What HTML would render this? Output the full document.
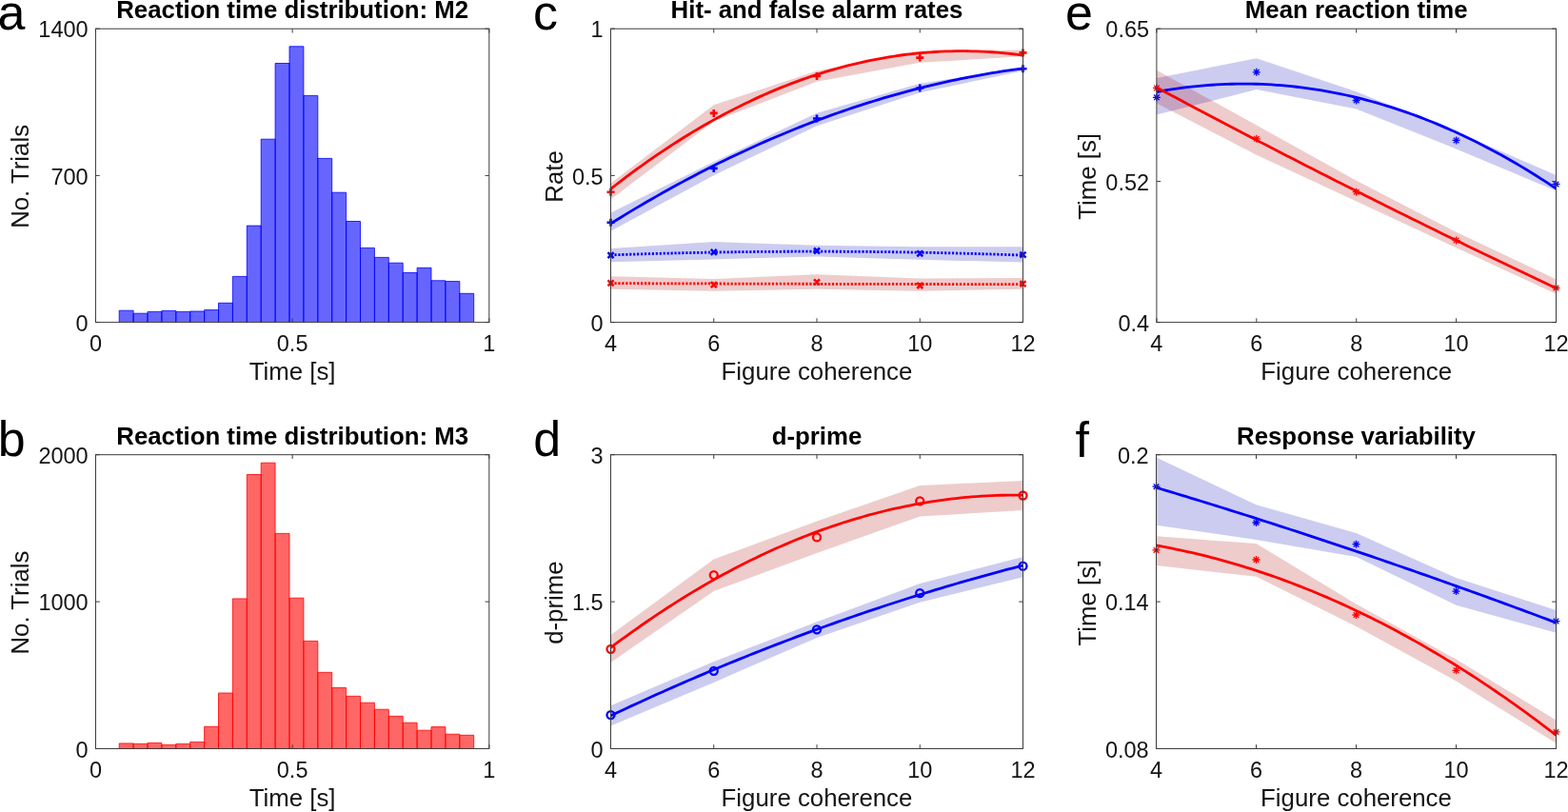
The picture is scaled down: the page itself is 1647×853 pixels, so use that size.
<!DOCTYPE html>
<html><head><meta charset="utf-8"><title>Figure</title>
<style>html,body{margin:0;padding:0;background:#fff;width:1647px;height:853px;overflow:hidden}svg{display:block}</style>
</head><body>
<svg width="1647" height="853" viewBox="0 0 1647 853">
<style>text{font-family:"Liberation Sans", Arial, Helvetica, sans-serif;fill:#141414}.t{font-size:23.5px}.l{font-size:25.8px}.ti{font-size:25.8px;font-weight:bold;fill:#000}.pl{font-size:52px;fill:#000}</style>
<rect width="1647" height="853" fill="#fff"/>
<path d="M125.2 338.6V326.2H140.1V338.6M140.1 338.6V329.2H155V338.6M155 338.6V327.4H169.9V338.6M169.9 338.6V326.4H184.8V338.6M184.8 338.6V327.4H199.7V338.6M199.7 338.6V327H214.6V338.6M214.6 338.6V325.6H229.5V338.6M229.5 338.6V318.3H244.4V338.6M244.4 338.6V290.4H259.3V338.6M259.3 338.6V237.1H274.2V338.6M274.2 338.6V146.2H289.1V338.6M289.1 338.6V66.5H304V338.6M304 338.6V48.8H318.9V338.6M318.9 338.6V100.4H333.8V338.6M333.8 338.6V166.4H348.7V338.6M348.7 338.6V202.2H363.6V338.6M363.6 338.6V232.5H378.5V338.6M378.5 338.6V260.4H393.4V338.6M393.4 338.6V270.4H408.3V338.6M408.3 338.6V276.2H423.2V338.6M423.2 338.6V286.5H438.1V338.6M438.1 338.6V281.3H453V338.6M453 338.6V294.8H467.9V338.6M467.9 338.6V295.6H482.8V338.6M482.8 338.6V308.3H497.7V338.6" fill="#6666ff" stroke="#0000ff" stroke-width="0.8" stroke-linejoin="miter"/>
<path d="M100.45 338.6v-4.3M100.45 30.2v4.3M307.12 338.6v-4.3M307.12 30.2v4.3M513.8 338.6v-4.3M513.8 30.2v4.3M100.45 338.6h4.3M513.8 338.6h-4.3M100.45 184.4h4.3M513.8 184.4h-4.3M100.45 30.2h4.3M513.8 30.2h-4.3" stroke="#3c3c3c" stroke-width="1.0" fill="none"/>
<rect x="100.45" y="30.2" width="413.35" height="308.4" stroke="#3c3c3c" stroke-width="1.0" fill="none"/>
<text x="100.45" y="368.7" text-anchor="middle" class="t">0</text>
<text x="307.12" y="368.7" text-anchor="middle" class="t">0.5</text>
<text x="513.8" y="368.7" text-anchor="middle" class="t">1</text>
<text x="92.65" y="347.7" text-anchor="end" class="t">0</text>
<text x="92.65" y="193.5" text-anchor="end" class="t">700</text>
<text x="92.65" y="39.3" text-anchor="end" class="t">1400</text>
<text x="307.12" y="399" text-anchor="middle" class="l">Time [s]</text>
<text transform="translate(29.7 185.4) rotate(-90)" text-anchor="middle" class="l">No. Trials</text>
<text x="307.12" y="19.3" text-anchor="middle" class="ti">Reaction time distribution: M2</text>
<path d="M125.2 786.5V780.9H140.1V786.5M140.1 786.5V781.3H155V786.5M155 786.5V780.4H169.9V786.5M169.9 786.5V782.4H184.8V786.5M184.8 786.5V781.4H199.7V786.5M199.7 786.5V779.4H214.6V786.5M214.6 786.5V763.3H229.5V786.5M229.5 786.5V728H244.4V786.5M244.4 786.5V628.9H259.3V786.5M259.3 786.5V498.5H274.2V786.5M274.2 786.5V486.2H289.1V786.5M289.1 786.5V560.4H304V786.5M304 786.5V628.2H318.9V786.5M318.9 786.5V673.4H333.8V786.5M333.8 786.5V706.3H348.7V786.5M348.7 786.5V722.5H363.6V786.5M363.6 786.5V731.3H378.5V786.5M378.5 786.5V738.2H393.4V786.5M393.4 786.5V745.2H408.3V786.5M408.3 786.5V752.3H423.2V786.5M423.2 786.5V759.2H438.1V786.5M438.1 786.5V767.2H453V786.5M453 786.5V763.6H467.9V786.5M467.9 786.5V771.2H482.8V786.5M482.8 786.5V772.3H497.7V786.5" fill="#ff6666" stroke="#ff0000" stroke-width="0.8" stroke-linejoin="miter"/>
<path d="M100.45 786.5v-4.3M100.45 477.7v4.3M307.12 786.5v-4.3M307.12 477.7v4.3M513.8 786.5v-4.3M513.8 477.7v4.3M100.5 786.5h4.3M513.8 786.5h-4.3M100.5 632.1h4.3M513.8 632.1h-4.3M100.5 477.7h4.3M513.8 477.7h-4.3" stroke="#3c3c3c" stroke-width="1.0" fill="none"/>
<rect x="100.5" y="477.7" width="413.3" height="308.8" stroke="#3c3c3c" stroke-width="1.0" fill="none"/>
<text x="100.45" y="816.6" text-anchor="middle" class="t">0</text>
<text x="307.12" y="816.6" text-anchor="middle" class="t">0.5</text>
<text x="513.8" y="816.6" text-anchor="middle" class="t">1</text>
<text x="92.7" y="795.6" text-anchor="end" class="t">0</text>
<text x="92.7" y="641.2" text-anchor="end" class="t">1000</text>
<text x="92.7" y="486.8" text-anchor="end" class="t">2000</text>
<text x="307.15" y="846.9" text-anchor="middle" class="l">Time [s]</text>
<text transform="translate(29.7 633.1) rotate(-90)" text-anchor="middle" class="l">No. Trials</text>
<text x="307.15" y="466.8" text-anchor="middle" class="ti">Reaction time distribution: M3</text>
<polygon points="641.5,261.1 749.75,254.1 858,257.8 966.25,259.2 1074.5,259.2 1074.5,275.6 966.25,272.8 858,269.5 749.75,272.4 641.5,275.2" fill="rgb(0,0,180)" fill-opacity="0.2"/>
<polygon points="641.5,290.2 749.75,293 858,288.3 966.25,292.5 1074.5,292.1 1074.5,303.8 966.25,305.7 858,303.8 749.75,305.7 641.5,303.8" fill="rgb(170,0,0)" fill-opacity="0.2"/>
<polygon points="641.5,223.5 749.75,170.1 858,118.7 966.25,87.8 1074.5,70.8 1074.5,74.6 966.25,97.2 858,132.2 749.75,184.2 641.5,242.7" fill="rgb(0,0,180)" fill-opacity="0.2"/>
<polygon points="641.5,192.5 749.75,110.3 858,74.6 966.25,54.5 1074.5,52.4 1074.5,59.2 966.25,65.8 858,85.8 749.75,127.5 641.5,209.4" fill="rgb(170,0,0)" fill-opacity="0.2"/>
<polyline points="641.5,267.89 646.91,267.71 652.33,267.53 657.74,267.35 663.15,267.18 668.56,267.01 673.98,266.85 679.39,266.69 684.8,266.54 690.21,266.39 695.62,266.25 701.04,266.11 706.45,265.98 711.86,265.85 717.27,265.73 722.69,265.61 728.1,265.49 733.51,265.38 738.92,265.28 744.34,265.18 749.75,265.08 755.16,264.99 760.58,264.91 765.99,264.83 771.4,264.75 776.81,264.68 782.23,264.61 787.64,264.55 793.05,264.49 798.46,264.44 803.88,264.39 809.29,264.35 814.7,264.31 820.11,264.28 825.52,264.25 830.94,264.23 836.35,264.21 841.76,264.2 847.18,264.19 852.59,264.19 858,264.19 863.41,264.19 868.82,264.2 874.24,264.22 879.65,264.24 885.06,264.26 890.48,264.29 895.89,264.32 901.3,264.36 906.71,264.41 912.12,264.46 917.54,264.51 922.95,264.57 928.36,264.63 933.78,264.7 939.19,264.77 944.6,264.85 950.01,264.93 955.42,265.02 960.84,265.11 966.25,265.2 971.66,265.3 977.08,265.41 982.49,265.52 987.9,265.64 993.31,265.76 998.73,265.88 1004.14,266.01 1009.55,266.15 1014.96,266.29 1020.38,266.43 1025.79,266.58 1031.2,266.73 1036.61,266.89 1042.03,267.05 1047.44,267.22 1052.85,267.39 1058.26,267.57 1063.67,267.76 1069.09,267.94 1074.5,268.13" fill="none" stroke="#0000ff" stroke-width="2.8" stroke-linejoin="round" stroke-dasharray="2.2 1.74"/>
<polyline points="641.5,297.63 646.91,297.65 652.33,297.67 657.74,297.69 663.15,297.71 668.56,297.72 673.98,297.74 679.39,297.76 684.8,297.78 690.21,297.8 695.62,297.82 701.04,297.83 706.45,297.85 711.86,297.87 717.27,297.89 722.69,297.9 728.1,297.92 733.51,297.94 738.92,297.95 744.34,297.97 749.75,297.99 755.16,298 760.58,298.02 765.99,298.03 771.4,298.05 776.81,298.06 782.23,298.08 787.64,298.09 793.05,298.11 798.46,298.12 803.88,298.14 809.29,298.15 814.7,298.17 820.11,298.18 825.52,298.19 830.94,298.21 836.35,298.22 841.76,298.23 847.18,298.25 852.59,298.26 858,298.27 863.41,298.28 868.82,298.3 874.24,298.31 879.65,298.32 885.06,298.33 890.48,298.34 895.89,298.35 901.3,298.37 906.71,298.38 912.12,298.39 917.54,298.4 922.95,298.41 928.36,298.42 933.78,298.43 939.19,298.44 944.6,298.45 950.01,298.46 955.42,298.47 960.84,298.48 966.25,298.49 971.66,298.49 977.08,298.5 982.49,298.51 987.9,298.52 993.31,298.53 998.73,298.54 1004.14,298.54 1009.55,298.55 1014.96,298.56 1020.38,298.57 1025.79,298.57 1031.2,298.58 1036.61,298.59 1042.03,298.59 1047.44,298.6 1052.85,298.61 1058.26,298.61 1063.67,298.62 1069.09,298.62 1074.5,298.63" fill="none" stroke="#ff0000" stroke-width="2.8" stroke-linejoin="round" stroke-dasharray="2.2 1.74"/>
<polyline points="641.5,234.88 646.91,231.52 652.33,228.19 657.74,224.9 663.15,221.64 668.56,218.41 673.98,215.22 679.39,212.06 684.8,208.94 690.21,205.84 695.62,202.78 701.04,199.76 706.45,196.77 711.86,193.81 717.27,190.88 722.69,187.99 728.1,185.14 733.51,182.31 738.92,179.52 744.34,176.76 749.75,174.04 755.16,171.35 760.58,168.69 765.99,166.07 771.4,163.48 776.81,160.92 782.23,158.4 787.64,155.91 793.05,153.46 798.46,151.03 803.88,148.64 809.29,146.29 814.7,143.97 820.11,141.68 825.52,139.42 830.94,137.2 836.35,135.02 841.76,132.86 847.18,130.74 852.59,128.65 858,126.6 863.41,124.58 868.82,122.59 874.24,120.64 879.65,118.72 885.06,116.83 890.48,114.98 895.89,113.16 901.3,111.38 906.71,109.62 912.12,107.9 917.54,106.22 922.95,104.57 928.36,102.95 933.78,101.36 939.19,99.81 944.6,98.3 950.01,96.81 955.42,95.36 960.84,93.94 966.25,92.56 971.66,91.21 977.08,89.89 982.49,88.61 987.9,87.36 993.31,86.14 998.73,84.96 1004.14,83.81 1009.55,82.7 1014.96,81.61 1020.38,80.57 1025.79,79.55 1031.2,78.57 1036.61,77.62 1042.03,76.71 1047.44,75.82 1052.85,74.98 1058.26,74.16 1063.67,73.38 1069.09,72.63 1074.5,71.92" fill="none" stroke="#0000ff" stroke-width="2.8" stroke-linejoin="round"/>
<polyline points="641.5,198.47 646.91,194.24 652.33,190.08 657.74,185.99 663.15,181.95 668.56,177.98 673.98,174.07 679.39,170.22 684.8,166.44 690.21,162.72 695.62,159.06 701.04,155.46 706.45,151.93 711.86,148.45 717.27,145.04 722.69,141.7 728.1,138.41 733.51,135.19 738.92,132.03 744.34,128.93 749.75,125.9 755.16,122.92 760.58,120.01 765.99,117.17 771.4,114.38 776.81,111.66 782.23,109 787.64,106.4 793.05,103.87 798.46,101.39 803.88,98.98 809.29,96.63 814.7,94.35 820.11,92.13 825.52,89.97 830.94,87.87 836.35,85.83 841.76,83.86 847.18,81.95 852.59,80.1 858,78.31 863.41,76.59 868.82,74.93 874.24,73.33 879.65,71.8 885.06,70.32 890.48,68.91 895.89,67.56 901.3,66.28 906.71,65.05 912.12,63.89 917.54,62.79 922.95,61.76 928.36,60.78 933.78,59.87 939.19,59.02 944.6,58.24 950.01,57.51 955.42,56.85 960.84,56.25 966.25,55.72 971.66,55.24 977.08,54.83 982.49,54.48 987.9,54.2 993.31,53.97 998.73,53.81 1004.14,53.71 1009.55,53.67 1014.96,53.7 1020.38,53.79 1025.79,53.94 1031.2,54.15 1036.61,54.43 1042.03,54.77 1047.44,55.17 1052.85,55.63 1058.26,56.15 1063.67,56.74 1069.09,57.39 1074.5,58.11" fill="none" stroke="#ff0000" stroke-width="2.8" stroke-linejoin="round"/>
<path d="M638.5 265.1l6 6M644.5 265.1l-6 6M746.75 261.9l6 6M752.75 261.9l-6 6M855 260.5l6 6M861 260.5l-6 6M963.25 263.3l6 6M969.25 263.3l-6 6M1071.5 264.7l6 6M1077.5 264.7l-6 6" fill="none" stroke="#0000ff" stroke-width="2.5"/>
<path d="M638.5 294.4l6 6M644.5 294.4l-6 6M746.75 296.1l6 6M752.75 296.1l-6 6M855 293.3l6 6M861 293.3l-6 6M963.25 297l6 6M969.25 297l-6 6M1071.5 295.2l6 6M1077.5 295.2l-6 6" fill="none" stroke="#ff0000" stroke-width="2.5"/>
<path d="M637.5 233.8h8M641.5 229.8v8M745.75 176.9h8M749.75 172.9v8M854 124.5h8M858 120.5v8M962.25 92.5h8M966.25 88.5v8M1070.5 72.3h8M1074.5 68.3v8" fill="none" stroke="#0000ff" stroke-width="2.6"/>
<path d="M637.5 201.7h8M641.5 197.7v8M745.75 118.9h8M749.75 114.9v8M854 79.9h8M858 75.9v8M962.25 60.6h8M966.25 56.6v8M1070.5 55.4h8M1074.5 51.4v8" fill="none" stroke="#ff0000" stroke-width="2.6"/>
<path d="M641.5 338.6v-4.3M641.5 30.2v4.3M749.75 338.6v-4.3M749.75 30.2v4.3M858 338.6v-4.3M858 30.2v4.3M966.25 338.6v-4.3M966.25 30.2v4.3M1074.5 338.6v-4.3M1074.5 30.2v4.3M641.5 338.6h4.3M1074.5 338.6h-4.3M641.5 184.4h4.3M1074.5 184.4h-4.3M641.5 30.2h4.3M1074.5 30.2h-4.3" stroke="#3c3c3c" stroke-width="1.0" fill="none"/>
<rect x="641.5" y="30.2" width="433" height="308.4" stroke="#3c3c3c" stroke-width="1.0" fill="none"/>
<text x="641.5" y="368.7" text-anchor="middle" class="t">4</text>
<text x="749.75" y="368.7" text-anchor="middle" class="t">6</text>
<text x="858" y="368.7" text-anchor="middle" class="t">8</text>
<text x="966.25" y="368.7" text-anchor="middle" class="t">10</text>
<text x="1074.5" y="368.7" text-anchor="middle" class="t">12</text>
<text x="633.7" y="347.7" text-anchor="end" class="t">0</text>
<text x="633.7" y="193.5" text-anchor="end" class="t">0.5</text>
<text x="633.7" y="39.3" text-anchor="end" class="t">1</text>
<text x="858" y="399" text-anchor="middle" class="l">Figure coherence</text>
<text transform="translate(590.6 185.4) rotate(-90)" text-anchor="middle" class="l">Rate</text>
<text x="858" y="19.3" text-anchor="middle" class="ti">Hit- and false alarm rates</text>
<polygon points="641.5,741.25 749.75,695 858,653.3 966.25,612.9 1074.5,585.1 1074.5,606.2 966.25,632.8 858,670 749.75,716.9 641.5,762.6" fill="rgb(0,0,180)" fill-opacity="0.2"/>
<polygon points="641.5,667 749.75,587.5 858,547.6 966.25,510.1 1074.5,504.9 1074.5,536.1 966.25,542.5 858,581 749.75,621 641.5,696.1" fill="rgb(170,0,0)" fill-opacity="0.2"/>
<polyline points="641.5,751.76 646.91,749.21 652.33,746.67 657.74,744.15 663.15,741.64 668.56,739.15 673.98,736.67 679.39,734.21 684.8,731.76 690.21,729.33 695.62,726.91 701.04,724.51 706.45,722.12 711.86,719.74 717.27,717.38 722.69,715.04 728.1,712.71 733.51,710.39 738.92,708.09 744.34,705.8 749.75,703.53 755.16,701.27 760.58,699.03 765.99,696.8 771.4,694.59 776.81,692.39 782.23,690.21 787.64,688.04 793.05,685.88 798.46,683.74 803.88,681.61 809.29,679.5 814.7,677.41 820.11,675.33 825.52,673.26 830.94,671.21 836.35,669.17 841.76,667.14 847.18,665.14 852.59,663.14 858,661.16 863.41,659.2 868.82,657.25 874.24,655.31 879.65,653.39 885.06,651.49 890.48,649.59 895.89,647.72 901.3,645.86 906.71,644.01 912.12,642.17 917.54,640.36 922.95,638.55 928.36,636.76 933.78,634.99 939.19,633.23 944.6,631.49 950.01,629.75 955.42,628.04 960.84,626.34 966.25,624.65 971.66,622.98 977.08,621.32 982.49,619.68 987.9,618.05 993.31,616.44 998.73,614.84 1004.14,613.26 1009.55,611.69 1014.96,610.13 1020.38,608.59 1025.79,607.07 1031.2,605.56 1036.61,604.06 1042.03,602.58 1047.44,601.11 1052.85,599.66 1058.26,598.22 1063.67,596.8 1069.09,595.39 1074.5,594" fill="none" stroke="#0000ff" stroke-width="2.8" stroke-linejoin="round"/>
<polyline points="641.5,680.27 646.91,676.22 652.33,672.22 657.74,668.27 663.15,664.37 668.56,660.52 673.98,656.73 679.39,652.99 684.8,649.3 690.21,645.66 695.62,642.08 701.04,638.54 706.45,635.06 711.86,631.63 717.27,628.25 722.69,624.93 728.1,621.65 733.51,618.43 738.92,615.26 744.34,612.14 749.75,609.07 755.16,606.06 760.58,603.1 765.99,600.19 771.4,597.33 776.81,594.52 782.23,591.77 787.64,589.06 793.05,586.41 798.46,583.81 803.88,581.26 809.29,578.77 814.7,576.33 820.11,573.93 825.52,571.6 830.94,569.31 836.35,567.07 841.76,564.89 847.18,562.76 852.59,560.68 858,558.65 863.41,556.67 868.82,554.75 874.24,552.88 879.65,551.06 885.06,549.29 890.48,547.57 895.89,545.91 901.3,544.29 906.71,542.73 912.12,541.22 917.54,539.77 922.95,538.36 928.36,537.01 933.78,535.71 939.19,534.46 944.6,533.26 950.01,532.12 955.42,531.02 960.84,529.98 966.25,528.99 971.66,528.06 977.08,527.17 982.49,526.34 987.9,525.56 993.31,524.83 998.73,524.15 1004.14,523.52 1009.55,522.95 1014.96,522.43 1020.38,521.96 1025.79,521.54 1031.2,521.17 1036.61,520.86 1042.03,520.6 1047.44,520.38 1052.85,520.23 1058.26,520.12 1063.67,520.07 1069.09,520.06 1074.5,520.11" fill="none" stroke="#ff0000" stroke-width="2.8" stroke-linejoin="round"/>
<circle cx="641.5" cy="751.1" r="4" fill="none" stroke="#0000ff" stroke-width="2.3"/>
<circle cx="749.75" cy="704.8" r="4" fill="none" stroke="#0000ff" stroke-width="2.3"/>
<circle cx="858" cy="661.3" r="4" fill="none" stroke="#0000ff" stroke-width="2.3"/>
<circle cx="966.25" cy="623.2" r="4" fill="none" stroke="#0000ff" stroke-width="2.3"/>
<circle cx="1074.5" cy="594.7" r="4" fill="none" stroke="#0000ff" stroke-width="2.3"/>
<circle cx="641.5" cy="681.8" r="4" fill="none" stroke="#ff0000" stroke-width="2.3"/>
<circle cx="749.75" cy="604.1" r="4" fill="none" stroke="#ff0000" stroke-width="2.3"/>
<circle cx="858" cy="564.4" r="4" fill="none" stroke="#ff0000" stroke-width="2.3"/>
<circle cx="966.25" cy="526.3" r="4" fill="none" stroke="#ff0000" stroke-width="2.3"/>
<circle cx="1074.5" cy="520.5" r="4" fill="none" stroke="#ff0000" stroke-width="2.3"/>
<path d="M641.5 786.5v-4.3M641.5 477.7v4.3M749.75 786.5v-4.3M749.75 477.7v4.3M858 786.5v-4.3M858 477.7v4.3M966.25 786.5v-4.3M966.25 477.7v4.3M1074.5 786.5v-4.3M1074.5 477.7v4.3M641.5 786.5h4.3M1074.5 786.5h-4.3M641.5 632.1h4.3M1074.5 632.1h-4.3M641.5 477.7h4.3M1074.5 477.7h-4.3" stroke="#3c3c3c" stroke-width="1.0" fill="none"/>
<rect x="641.5" y="477.7" width="433" height="308.8" stroke="#3c3c3c" stroke-width="1.0" fill="none"/>
<text x="641.5" y="816.6" text-anchor="middle" class="t">4</text>
<text x="749.75" y="816.6" text-anchor="middle" class="t">6</text>
<text x="858" y="816.6" text-anchor="middle" class="t">8</text>
<text x="966.25" y="816.6" text-anchor="middle" class="t">10</text>
<text x="1074.5" y="816.6" text-anchor="middle" class="t">12</text>
<text x="633.7" y="795.6" text-anchor="end" class="t">0</text>
<text x="633.7" y="641.2" text-anchor="end" class="t">1.5</text>
<text x="633.7" y="486.8" text-anchor="end" class="t">3</text>
<text x="858" y="846.9" text-anchor="middle" class="l">Figure coherence</text>
<text transform="translate(590.6 633.1) rotate(-90)" text-anchor="middle" class="l">d-prime</text>
<text x="858" y="466.8" text-anchor="middle" class="ti">d-prime</text>
<polygon points="1214.9,81.9 1319.8,61.3 1424.7,96.3 1529.6,138.5 1634.5,184.05 1634.5,200.6 1529.6,156.5 1424.7,114.6 1319.8,94.1 1214.9,120.6" fill="rgb(0,0,180)" fill-opacity="0.2"/>
<polygon points="1214.9,73.8 1319.8,131.4 1424.7,189.7 1529.6,243.8 1634.5,293.2 1634.5,308.65 1529.6,260.3 1424.7,211.5 1319.8,162.8 1214.9,108.6" fill="rgb(170,0,0)" fill-opacity="0.2"/>
<polyline points="1214.9,96.58 1220.14,95.63 1225.39,94.74 1230.63,93.9 1235.88,93.12 1241.12,92.4 1246.37,91.73 1251.62,91.12 1256.86,90.56 1262.11,90.06 1267.35,89.62 1272.6,89.23 1277.84,88.9 1283.09,88.62 1288.33,88.41 1293.58,88.24 1298.82,88.14 1304.07,88.09 1309.31,88.09 1314.56,88.15 1319.8,88.27 1325.05,88.45 1330.29,88.68 1335.54,88.96 1340.78,89.31 1346.03,89.7 1351.27,90.16 1356.52,90.67 1361.76,91.24 1367.01,91.86 1372.25,92.54 1377.5,93.28 1382.74,94.07 1387.99,94.92 1393.23,95.82 1398.48,96.78 1403.72,97.8 1408.97,98.87 1414.21,100 1419.46,101.18 1424.7,102.42 1429.95,103.72 1435.19,105.07 1440.44,106.48 1445.68,107.95 1450.92,109.47 1456.17,111.05 1461.41,112.68 1466.66,114.37 1471.9,116.12 1477.15,117.92 1482.39,119.78 1487.64,121.69 1492.88,123.66 1498.13,125.69 1503.38,127.77 1508.62,129.91 1513.87,132.11 1519.11,134.36 1524.36,136.67 1529.6,139.03 1534.85,141.45 1540.09,143.93 1545.34,146.46 1550.58,149.05 1555.83,151.69 1561.07,154.39 1566.32,157.15 1571.56,159.96 1576.81,162.83 1582.05,165.76 1587.3,168.74 1592.54,171.78 1597.79,174.87 1603.03,178.02 1608.28,181.23 1613.52,184.49 1618.76,187.81 1624.01,191.18 1629.26,194.61 1634.5,198.1" fill="none" stroke="#0000ff" stroke-width="2.8" stroke-linejoin="round"/>
<polyline points="1214.9,91.89 1220.14,94.69 1225.39,97.49 1230.63,100.29 1235.88,103.08 1241.12,105.86 1246.37,108.65 1251.62,111.43 1256.86,114.2 1262.11,116.97 1267.35,119.74 1272.6,122.5 1277.84,125.25 1283.09,128.01 1288.33,130.76 1293.58,133.5 1298.82,136.24 1304.07,138.98 1309.31,141.71 1314.56,144.43 1319.8,147.16 1325.05,149.88 1330.29,152.59 1335.54,155.3 1340.78,158.01 1346.03,160.71 1351.27,163.4 1356.52,166.1 1361.76,168.79 1367.01,171.47 1372.25,174.15 1377.5,176.83 1382.74,179.5 1387.99,182.16 1393.23,184.83 1398.48,187.49 1403.72,190.14 1408.97,192.79 1414.21,195.44 1419.46,198.08 1424.7,200.71 1429.95,203.35 1435.19,205.98 1440.44,208.6 1445.68,211.22 1450.92,213.84 1456.17,216.45 1461.41,219.05 1466.66,221.66 1471.9,224.26 1477.15,226.85 1482.39,229.44 1487.64,232.03 1492.88,234.61 1498.13,237.18 1503.38,239.76 1508.62,242.33 1513.87,244.89 1519.11,247.45 1524.36,250.01 1529.6,252.56 1534.85,255.1 1540.09,257.65 1545.34,260.19 1550.58,262.72 1555.83,265.25 1561.07,267.78 1566.32,270.3 1571.56,272.81 1576.81,275.33 1582.05,277.84 1587.3,280.34 1592.54,282.84 1597.79,285.34 1603.03,287.83 1608.28,290.31 1613.52,292.8 1618.76,295.28 1624.01,297.75 1629.26,300.22 1634.5,302.69" fill="none" stroke="#ff0000" stroke-width="2.8" stroke-linejoin="round"/>
<path d="M1210.9 102.3h8M1214.9 98.3v8M1212.1 99.5l5.6 5.6M1217.7 99.5l-5.6 5.6M1315.8 75.8h8M1319.8 71.8v8M1317 73l5.6 5.6M1322.6 73l-5.6 5.6M1420.7 105.5h8M1424.7 101.5v8M1421.9 102.7l5.6 5.6M1427.5 102.7l-5.6 5.6M1525.6 147.4h8M1529.6 143.4v8M1526.8 144.6l5.6 5.6M1532.4 144.6l-5.6 5.6M1630.5 193.4h8M1634.5 189.4v8M1631.7 190.6l5.6 5.6M1637.3 190.6l-5.6 5.6" fill="none" stroke="#0000ff" stroke-width="1.3"/>
<path d="M1210.9 92.4h8M1214.9 88.4v8M1212.1 89.6l5.6 5.6M1217.7 89.6l-5.6 5.6M1315.8 145.8h8M1319.8 141.8v8M1317 143l5.6 5.6M1322.6 143l-5.6 5.6M1420.7 201.7h8M1424.7 197.7v8M1421.9 198.9l5.6 5.6M1427.5 198.9l-5.6 5.6M1525.6 252.6h8M1529.6 248.6v8M1526.8 249.8l5.6 5.6M1532.4 249.8l-5.6 5.6M1630.5 302.5h8M1634.5 298.5v8M1631.7 299.7l5.6 5.6M1637.3 299.7l-5.6 5.6" fill="none" stroke="#ff0000" stroke-width="1.3"/>
<path d="M1214.9 338.6v-4.3M1214.9 30.2v4.3M1319.8 338.6v-4.3M1319.8 30.2v4.3M1424.7 338.6v-4.3M1424.7 30.2v4.3M1529.6 338.6v-4.3M1529.6 30.2v4.3M1634.5 338.6v-4.3M1634.5 30.2v4.3M1214.9 338.6h4.3M1634.5 338.6h-4.3M1214.9 190.57h4.3M1634.5 190.57h-4.3M1214.9 30.2h4.3M1634.5 30.2h-4.3" stroke="#3c3c3c" stroke-width="1.0" fill="none"/>
<rect x="1214.9" y="30.2" width="419.6" height="308.4" stroke="#3c3c3c" stroke-width="1.0" fill="none"/>
<text x="1214.9" y="368.7" text-anchor="middle" class="t">4</text>
<text x="1319.8" y="368.7" text-anchor="middle" class="t">6</text>
<text x="1424.7" y="368.7" text-anchor="middle" class="t">8</text>
<text x="1529.6" y="368.7" text-anchor="middle" class="t">10</text>
<text x="1634.5" y="368.7" text-anchor="middle" class="t">12</text>
<text x="1207.1" y="347.7" text-anchor="end" class="t">0.4</text>
<text x="1207.1" y="199.67" text-anchor="end" class="t">0.52</text>
<text x="1207.1" y="39.3" text-anchor="end" class="t">0.65</text>
<text x="1424.7" y="399" text-anchor="middle" class="l">Figure coherence</text>
<text transform="translate(1151.25 185.4) rotate(-90)" text-anchor="middle" class="l">Time [s]</text>
<text x="1424.7" y="19.3" text-anchor="middle" class="ti">Mean reaction time</text>
<polygon points="1214.5,480.5 1319.5,530.3 1424.5,560 1529.5,607 1634.5,641 1634.5,664.7 1529.5,635.7 1424.5,584.9 1319.5,566.9 1214.5,551.8" fill="rgb(0,0,180)" fill-opacity="0.2"/>
<polygon points="1214.5,563.3 1319.5,571.1 1424.5,634.6 1529.5,692.6 1634.5,756.5 1634.5,780.8 1529.5,715.5 1424.5,658 1319.5,605.7 1214.5,594" fill="rgb(170,0,0)" fill-opacity="0.2"/>
<polyline points="1214.5,512.15 1219.75,513.73 1225,515.31 1230.25,516.9 1235.5,518.49 1240.75,520.08 1246,521.68 1251.25,523.29 1256.5,524.9 1261.75,526.52 1267,528.14 1272.25,529.76 1277.5,531.39 1282.75,533.03 1288,534.67 1293.25,536.32 1298.5,537.97 1303.75,539.62 1309,541.29 1314.25,542.95 1319.5,544.62 1324.75,546.3 1330,547.98 1335.25,549.67 1340.5,551.36 1345.75,553.05 1351,554.76 1356.25,556.46 1361.5,558.17 1366.75,559.89 1372,561.61 1377.25,563.34 1382.5,565.07 1387.75,566.81 1393,568.55 1398.25,570.3 1403.5,572.05 1408.75,573.8 1414,575.57 1419.25,577.33 1424.5,579.11 1429.75,580.88 1435,582.66 1440.25,584.45 1445.5,586.24 1450.75,588.04 1456,589.84 1461.25,591.65 1466.5,593.46 1471.75,595.28 1477,597.1 1482.25,598.93 1487.5,600.76 1492.75,602.6 1498,604.44 1503.25,606.29 1508.5,608.14 1513.75,610 1519,611.86 1524.25,613.73 1529.5,615.6 1534.75,617.48 1540,619.36 1545.25,621.25 1550.5,623.14 1555.75,625.04 1561,626.94 1566.25,628.85 1571.5,630.77 1576.75,632.68 1582,634.61 1587.25,636.53 1592.5,638.47 1597.75,640.41 1603,642.35 1608.25,644.3 1613.5,646.25 1618.75,648.21 1624,650.17 1629.25,652.14 1634.5,654.11" fill="none" stroke="#0000ff" stroke-width="2.8" stroke-linejoin="round"/>
<polyline points="1214.5,572.97 1219.75,573.92 1225,574.91 1230.25,575.94 1235.5,577.01 1240.75,578.11 1246,579.26 1251.25,580.44 1256.5,581.66 1261.75,582.93 1267,584.23 1272.25,585.57 1277.5,586.95 1282.75,588.36 1288,589.82 1293.25,591.32 1298.5,592.85 1303.75,594.43 1309,596.04 1314.25,597.69 1319.5,599.38 1324.75,601.11 1330,602.88 1335.25,604.69 1340.5,606.54 1345.75,608.42 1351,610.35 1356.25,612.31 1361.5,614.32 1366.75,616.36 1372,618.44 1377.25,620.56 1382.5,622.72 1387.75,624.92 1393,627.16 1398.25,629.44 1403.5,631.75 1408.75,634.11 1414,636.5 1419.25,638.93 1424.5,641.41 1429.75,643.92 1435,646.47 1440.25,649.06 1445.5,651.68 1450.75,654.35 1456,657.06 1461.25,659.8 1466.5,662.59 1471.75,665.41 1477,668.27 1482.25,671.17 1487.5,674.11 1492.75,677.09 1498,680.11 1503.25,683.17 1508.5,686.27 1513.75,689.4 1519,692.58 1524.25,695.79 1529.5,699.04 1534.75,702.33 1540,705.67 1545.25,709.04 1550.5,712.44 1555.75,715.89 1561,719.38 1566.25,722.9 1571.5,726.47 1576.75,730.07 1582,733.72 1587.25,737.4 1592.5,741.12 1597.75,744.88 1603,748.68 1608.25,752.52 1613.5,756.39 1618.75,760.31 1624,764.27 1629.25,768.26 1634.5,772.29" fill="none" stroke="#ff0000" stroke-width="2.8" stroke-linejoin="round"/>
<path d="M1210.5 511.2h8M1214.5 507.2v8M1211.7 508.4l5.6 5.6M1217.3 508.4l-5.6 5.6M1315.5 549h8M1319.5 545v8M1316.7 546.2l5.6 5.6M1322.3 546.2l-5.6 5.6M1420.5 571.7h8M1424.5 567.7v8M1421.7 568.9l5.6 5.6M1427.3 568.9l-5.6 5.6M1525.5 621.1h8M1529.5 617.1v8M1526.7 618.3l5.6 5.6M1532.3 618.3l-5.6 5.6M1630.5 652.6h8M1634.5 648.6v8M1631.7 649.8l5.6 5.6M1637.3 649.8l-5.6 5.6" fill="none" stroke="#0000ff" stroke-width="1.3"/>
<path d="M1210.5 577.9h8M1214.5 573.9v8M1211.7 575.1l5.6 5.6M1217.3 575.1l-5.6 5.6M1315.5 588h8M1319.5 584v8M1316.7 585.2l5.6 5.6M1322.3 585.2l-5.6 5.6M1420.5 646h8M1424.5 642v8M1421.7 643.2l5.6 5.6M1427.3 643.2l-5.6 5.6M1525.5 704.3h8M1529.5 700.3v8M1526.7 701.5l5.6 5.6M1532.3 701.5l-5.6 5.6M1630.5 768.9h8M1634.5 764.9v8M1631.7 766.1l5.6 5.6M1637.3 766.1l-5.6 5.6" fill="none" stroke="#ff0000" stroke-width="1.3"/>
<path d="M1214.5 786.5v-4.3M1214.5 477.7v4.3M1319.5 786.5v-4.3M1319.5 477.7v4.3M1424.5 786.5v-4.3M1424.5 477.7v4.3M1529.5 786.5v-4.3M1529.5 477.7v4.3M1634.5 786.5v-4.3M1634.5 477.7v4.3M1214.5 786.5h4.3M1634.5 786.5h-4.3M1214.5 632.1h4.3M1634.5 632.1h-4.3M1214.5 477.7h4.3M1634.5 477.7h-4.3" stroke="#3c3c3c" stroke-width="1.0" fill="none"/>
<rect x="1214.5" y="477.7" width="420" height="308.8" stroke="#3c3c3c" stroke-width="1.0" fill="none"/>
<text x="1214.5" y="816.6" text-anchor="middle" class="t">4</text>
<text x="1319.5" y="816.6" text-anchor="middle" class="t">6</text>
<text x="1424.5" y="816.6" text-anchor="middle" class="t">8</text>
<text x="1529.5" y="816.6" text-anchor="middle" class="t">10</text>
<text x="1634.5" y="816.6" text-anchor="middle" class="t">12</text>
<text x="1206.7" y="795.6" text-anchor="end" class="t">0.08</text>
<text x="1206.7" y="641.2" text-anchor="end" class="t">0.14</text>
<text x="1206.7" y="486.8" text-anchor="end" class="t">0.2</text>
<text x="1424.5" y="846.9" text-anchor="middle" class="l">Figure coherence</text>
<text transform="translate(1151.25 633.1) rotate(-90)" text-anchor="middle" class="l">Time [s]</text>
<text x="1424.5" y="466.8" text-anchor="middle" class="ti">Response variability</text>
<text x="-2.5" y="31" class="pl">a</text>
<text x="-2.2" y="479" class="pl">b</text>
<text x="560" y="31" class="pl">c</text>
<text x="560.2" y="479" class="pl">d</text>
<text x="1119" y="31" class="pl">e</text>
<text x="1129.5" y="479.6" class="pl">f</text>
</svg>
</body></html>
